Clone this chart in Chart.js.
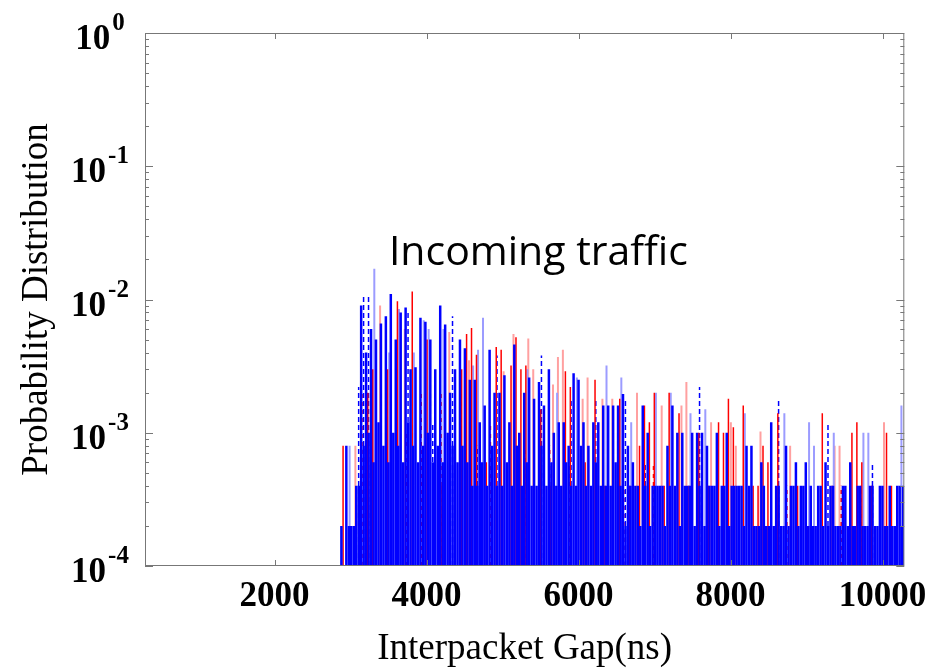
<!DOCTYPE html>
<html>
<head>
<meta charset="utf-8">
<script src="https://cdn.jsdelivr.net/npm/chart.js@4.4.1/dist/chart.umd.min.js"></script>
<style>
  body { margin: 0; background: #fff; }
  #wrap { width: 937px; height: 668px; }
</style>
</head>
<body>
<div id="wrap"><canvas id="gapChart" width="937" height="668"></canvas></div>
<script>
// histogram bins (ns)
const gapNs = [2880, 2945, 3010, 3075, 3140, 3205, 3270, 3335, 3400, 3465, 3530, 3595, 3660, 3725, 3790,
    3855, 3920, 3985, 4050, 4115, 4180, 4245, 4310, 4375, 4440, 4505, 4570, 4635, 4700, 4765, 4830, 4895,
    4960, 5025, 5090, 5155, 5220, 5285, 5350, 5415, 5480, 5545, 5610, 5675, 5740, 5805, 5870, 5935, 6000,
    6065, 6130, 6195, 6260, 6325, 6390, 6455, 6520, 6585, 6650, 6715, 6780, 6845, 6910, 6975, 7040, 7105,
    7170, 7235, 7300, 7365, 7430, 7495, 7560, 7625, 7690, 7755, 7820, 7885, 7950, 8015, 8080, 8145, 8210,
    8275, 8340, 8405, 8470, 8535, 8600, 8665, 8730, 8795, 8860, 8925, 8990, 9055, 9120, 9185, 9250, 9315,
    9380, 9445, 9510, 9575, 9640, 9705, 9770, 9835, 9900, 9965, 10030, 10095, 10160, 10225, 10270];

// blue trace, one value per bin
const blueProb = [2e-4, 8e-4, 2e-4, 4e-4, 9e-3, 4e-3, 6e-3, 5e-3, 6.6e-3, 7.5e-3,
    1.1e-2, 5e-3, 8e-3, 8.7e-3, 3e-3, 3.1e-3, 7.3e-3, 6.8e-3, 5e-3, 3e-3,
    9e-3, 6.5e-3, 2e-3, 3e-3, 5e-3, 4.3e-3, 2.5e-3, 2.5e-3, 1.2e-3, 1.6e-3,
    4.2e-3, 2e-3, 2e-3, 2.7e-3, 1.2e-3, 4.6e-3, 1e-3, 2e-3, 2.6e-3, 1.8e-3,
    2.4e-3, 1.6e-3, 3e-3, 1e-3, 1.2e-3, 1.2e-3, 8e-4, 2.8e-3, 2.5e-3, 1.2e-3,
    8e-4, 1.2e-3, 1.2e-3, 1.6e-3, 1.6e-3, 1.6e-3, 1.6e-3, 1.95e-3, 8e-4, 6e-4,
    4e-4, 1.6e-3, 1e-3, 4e-4, 4e-4, 4e-4, 8e-4, 1.6e-3, 1e-3, 1e-3,
    4e-4, 1e-3, 1e-3, 1e-3, 8e-4, 4e-4, 1e-3, 4e-4, 1e-3, 4e-4,
    4e-4, 4e-4, 8e-4, 8e-4, 2e-4, 6e-4, 2e-4, 1.2e-3, 4e-4, 2e-4,
    8e-4, 4e-4, 6e-4, 4e-4, 6e-4, 4e-4, 2e-4, 4e-4, 6e-4, 4e-4,
    2e-4, 2e-4, 4e-4, 6e-4, 2e-4, 4e-4, 2e-4, 4e-4, 2e-4, 4e-4,
    2e-4, 4e-4, 2e-4, 4e-4, 4e-4];

// second blue trace (low counts)
const blueLowProb = [null, 2e-4, 2e-4, 4e-4, 8e-4, 1e-3, 6e-4, 1.2e-3, 8e-4, 6e-4,
    1e-3, 8e-4, 6e-4, 1.2e-3, 8e-4, 6e-4, 8e-4, 1e-3, 6e-4, 8e-4,
    6e-4, 1e-3, 8e-4, 6e-4, 8e-4, 6e-4, 4e-4, 4e-4, 6e-4, 4e-4,
    8e-4, 4e-4, 4e-4, 6e-4, 4e-4, 8e-4, 4e-4, 6e-4, 4e-4, 4e-4,
    8e-4, 4e-4, 6e-4, 4e-4, 4e-4, 6e-4, 4e-4, 4e-4, 8e-4, 4e-4,
    4e-4, 6e-4, 4e-4, 4e-4, 4e-4, 6e-4, 4e-4, 2e-4, 4e-4, 4e-4,
    2e-4, 4e-4, 2e-4, 4e-4, 4e-4, 2e-4, 4e-4, 4e-4, 2e-4, 4e-4,
    4e-4, 2e-4, 4e-4, 2e-4, 4e-4, 4e-4, 2e-4, 4e-4, 2e-4, 4e-4,
    4e-4, 2e-4, 4e-4, 2e-4, 2e-4, 4e-4, 2e-4, 2e-4, 4e-4, 2e-4,
    2e-4, 4e-4, 2e-4, 4e-4, 2e-4, 2e-4, 4e-4, 2e-4, 2e-4, 4e-4,
    2e-4, 4e-4, 2e-4, 2e-4, 4e-4, 2e-4, 2e-4, 4e-4, 2e-4, 4e-4,
    2e-4, 2e-4, 4e-4, 2e-4, null];

// red trace
const redBins = [0, 5, 6, 9, 11, 14, 17, 20, 24, 25, 26, 27, 29, 31, 32, 34, 35, 36, 37, 40,
    42, 45, 46, 49, 51, 53, 56, 58, 60, 61, 62, 63, 65, 66, 68, 70, 72, 74, 76, 77,
    78, 79, 81, 83, 84, 85, 86, 88, 92, 94, 97, 99, 103, 104, 105, 107, 110, 111];
const redProb = [8e-4, 2e-3, 3e-3, 3e-3, 9.7e-3, 1.15e-2, 5e-3, 4e-4, 3e-3, 5.5e-3,
    6.1e-3, 3.85e-3, 6e-4, 4.4e-3, 4.2e-3, 3.2e-3, 5.2e-3, 3e-3, 3.2e-3, 1.5e-3,
    4e-4, 2.9e-3, 2.2e-3, 6e-4, 2.5e-3, 4e-4, 1.8e-3, 4e-4, 8e-4, 1.6e-3,
    1.2e-3, 2e-3, 4e-4, 2e-3, 1.4e-3, 4e-4, 1e-3, 4e-4, 1.2e-3, 1e-3,
    1.8e-3, 1.1e-3, 1.6e-3, 4e-4, 4e-4, 8e-4, 6e-4, 1.4e-3, 4e-4, 2e-4,
    1.4e-3, 4e-4, 1e-3, 1.2e-3, 6e-4, 4e-4, 1e-3, 4e-4];

// faint blue trace
const lightBins = [2, 7, 10, 12, 15, 17, 18, 21, 27, 28, 29, 38, 44, 48, 54, 57, 59, 64, 67, 71,
    74, 82, 90, 95, 96, 100, 106, 107, 114];
const lightProb = [8e-4, 1.7e-2, 4e-3, 8.5e-3, 4e-3, 7e-3, 6e-3, 6e-3, 3.2e-3, 4.2e-3,
    7.3e-3, 3e-3, 2e-3, 2.6e-3, 3.2e-3, 2.6e-3, 1.2e-3, 2e-3, 2e-3, 1.4e-3,
    1.5e-3, 1.4e-3, 1.4e-3, 1.2e-3, 8e-4, 1e-3, 1e-3, 1e-3, 1.6e-3];

// faint red trace
const pinkBins = [3, 8, 13, 22, 26, 33, 35, 38, 39, 43, 44, 45, 49, 50, 53, 55, 60, 65, 69, 70,
    75, 79, 80, 85, 91, 100, 101, 110];
const pinkProb = [8e-4, 9e-3, 6e-3, 5.7e-3, 3.5e-3, 2.9e-3, 5.5e-3, 5.1e-3, 3e-3, 2.3e-3,
    3.7e-3, 4.2e-3, 1.8e-3, 2.6e-3, 1.8e-3, 1.8e-3, 2e-3, 1.6e-3, 1.6e-3, 2.4e-3,
    1.2e-3, 1.2e-3, 8e-4, 1.02e-3, 8e-4, 8e-4, 8e-4, 1.2e-3];

// dashed traces
const blueDashBins = [4, 5, 6, 14, 19, 23, 28, 32, 36, 41, 47, 52, 58, 62, 73, 89, 99, 108];
const blueDashProb = [2.2e-3, 1.1e-2, 1.1e-2, 8e-3, 1.2e-3, 7.5e-3, 8e-4, 3.8e-3, 8e-4, 3.8e-3,
    1.8e-3, 1.8e-3, 1.8e-3, 6e-4, 2.2e-3, 1.8e-3, 1.2e-3, 6e-4];
const redDashBins = [4, 9, 13, 16, 20, 30, 37, 42, 46, 57, 63, 72, 90, 101, 105];
const redDashProb = [2e-3, 1.5e-3, 1e-3, 2e-3, 2e-3, 1.2e-3, 8e-4, 8e-4, 6e-4, 4e-4,
    6e-4, 4e-4, 4e-4, 4e-4, 4e-4];

// axes
const xTicks = [2000, 4000, 6000, 8000, 10000];
const yDecades = [1e-4, 1e-3, 1e-2, 1e-1, 1];
const yExponents = ['-4', '-3', '-2', '-1', '0'];
const xMin = 296, xMax = 10286;
const yMin = 1e-4, yMax = 1;

const noteText = 'Incoming traffic';
const noteAt = { x: 3505, y: 0.018 };

// stems: each bin becomes a vertical segment from the axis floor
function stemPoints(bins, probs, shift) {
    const pts = [];
    probs.forEach((p, i) => {
        if (p === null) return;
        const x = gapNs[bins ? bins[i] : i] + shift;
        pts.push({ x: x, y: yMin }, { x: x, y: p }, { x: x, y: null });
    });
    return pts;
}

function stemSet(points, color, width, order, dash) {
    return {
        data: points,
        borderColor: color,
        borderWidth: width,
        borderDash: dash || [],
        pointRadius: 0,
        spanGaps: false,
        tension: 0,
        order: order
    };
}

const serif = "'Liberation Serif', 'Times New Roman', serif";

const framePlugin = {
    id: 'frame',
    afterDraw(chart) {
        const { ctx, chartArea: a } = chart;
        const xs = chart.scales.x, ys = chart.scales.y;
        ctx.save();
        ctx.strokeStyle = '#777';
        ctx.lineWidth = 1;
        ctx.strokeRect(a.left + 0.5, a.top + 0.5, a.right - a.left - 1, a.bottom - a.top - 1);

        // log ticks on left and right
        ctx.beginPath();
        yDecades.forEach((d, i) => {
            const py = Math.round(ys.getPixelForValue(d)) + 0.5;
            ctx.moveTo(a.left, py); ctx.lineTo(a.left + 8, py);
            ctx.moveTo(a.right, py); ctx.lineTo(a.right - 8, py);
            if (i === yDecades.length - 1) return;
            for (let m = 2; m <= 9; m++) {
                const my = Math.round(ys.getPixelForValue(d * m)) + 0.5;
                ctx.moveTo(a.left, my); ctx.lineTo(a.left + 4, my);
                ctx.moveTo(a.right, my); ctx.lineTo(a.right - 4, my);
            }
        });
        xTicks.forEach(t => {
            const px = Math.round(xs.getPixelForValue(t)) + 0.5;
            ctx.moveTo(px, a.bottom); ctx.lineTo(px, a.bottom - 6);
            ctx.moveTo(px, a.top); ctx.lineTo(px, a.top + 6);
        });
        ctx.stroke();

        // y tick labels as 10 with superscript
        ctx.fillStyle = '#000';
        ctx.textBaseline = 'alphabetic';
        ctx.textAlign = 'left';
        yDecades.forEach((d, i) => {
            const py = ys.getPixelForValue(d);
            ctx.font = 'bold 35px ' + serif;
            const wBase = ctx.measureText('10').width;
            ctx.font = 'bold 25px ' + serif;
            const wExp = ctx.measureText(yExponents[i]).width;
            const x0 = 100 - (wBase + 2 + wExp) / 2;
            ctx.font = 'bold 35px ' + serif;
            ctx.fillText('10', x0, py + 16);
            ctx.font = 'bold 25px ' + serif;
            ctx.fillText(yExponents[i], x0 + wBase + 2, py - 3);
        });

        // in-plot label
        ctx.font = "41px 'Open Sans', sans-serif";
        ctx.fillText(noteText, xs.getPixelForValue(noteAt.x), ys.getPixelForValue(noteAt.y));
        ctx.restore();
    }
};

const ctx = document.getElementById('gapChart').getContext('2d');
const gapChart = new Chart(ctx, {
    type: 'line',
    data: {
        datasets: [
            stemSet(stemPoints(null, blueProb, 0), '#0000ff', 2.5, 1),
            stemSet(stemPoints(null, blueLowProb, 33), '#0000ff', 2.5, 2),
            stemSet(stemPoints(redBins, redProb, 22), '#ff0000', 1.5, 3),
            stemSet(stemPoints(blueDashBins, blueDashProb, -33), '#0000ff', 1.5, 4, [5, 3]),
            stemSet(stemPoints(redDashBins, redDashProb, 11), '#ff0000', 1.5, 5, [4, 4]),
            stemSet(stemPoints(lightBins, lightProb, -22), '#9c9cff', 2, 6),
            stemSet(stemPoints(pinkBins, pinkProb, -11), '#ffa0a0', 2, 7)
        ]
    },
    options: {
        responsive: false,
        animation: false,
        layout: { padding: { top: 33, right: 24, left: 0, bottom: 0 } },
        plugins: {
            legend: { display: false },
            tooltip: { enabled: false }
        },
        scales: {
            x: {
                type: 'linear',
                min: xMin,
                max: xMax,
                grid: { display: false, drawTicks: false },
                border: { display: false },
                afterBuildTicks: s => { s.ticks = xTicks.map(v => ({ value: v })); },
                afterFit: s => { s.height = 102; },
                ticks: {
                    color: '#000',
                    padding: 10,
                    maxRotation: 0,
                    font: { family: serif, size: 35, weight: 'bold' },
                    callback: v => String(v)
                },
                title: {
                    display: true,
                    text: 'Interpacket Gap(ns)',
                    color: '#000',
                    padding: { top: 3, bottom: 0 },
                    font: { family: serif, size: 37, lineHeight: 1 }
                }
            },
            y: {
                type: 'logarithmic',
                min: yMin,
                max: yMax,
                grid: { display: false, drawTicks: false },
                border: { display: false },
                ticks: { display: false },
                afterFit: s => { s.width = 145; },
                title: {
                    display: true,
                    text: 'Probability Distribution',
                    color: '#000',
                    padding: { top: 19, bottom: 0 },
                    font: { family: serif, size: 37, lineHeight: 1 }
                }
            }
        }
    },
    plugins: [framePlugin]
});
</script>
</body>
</html>
